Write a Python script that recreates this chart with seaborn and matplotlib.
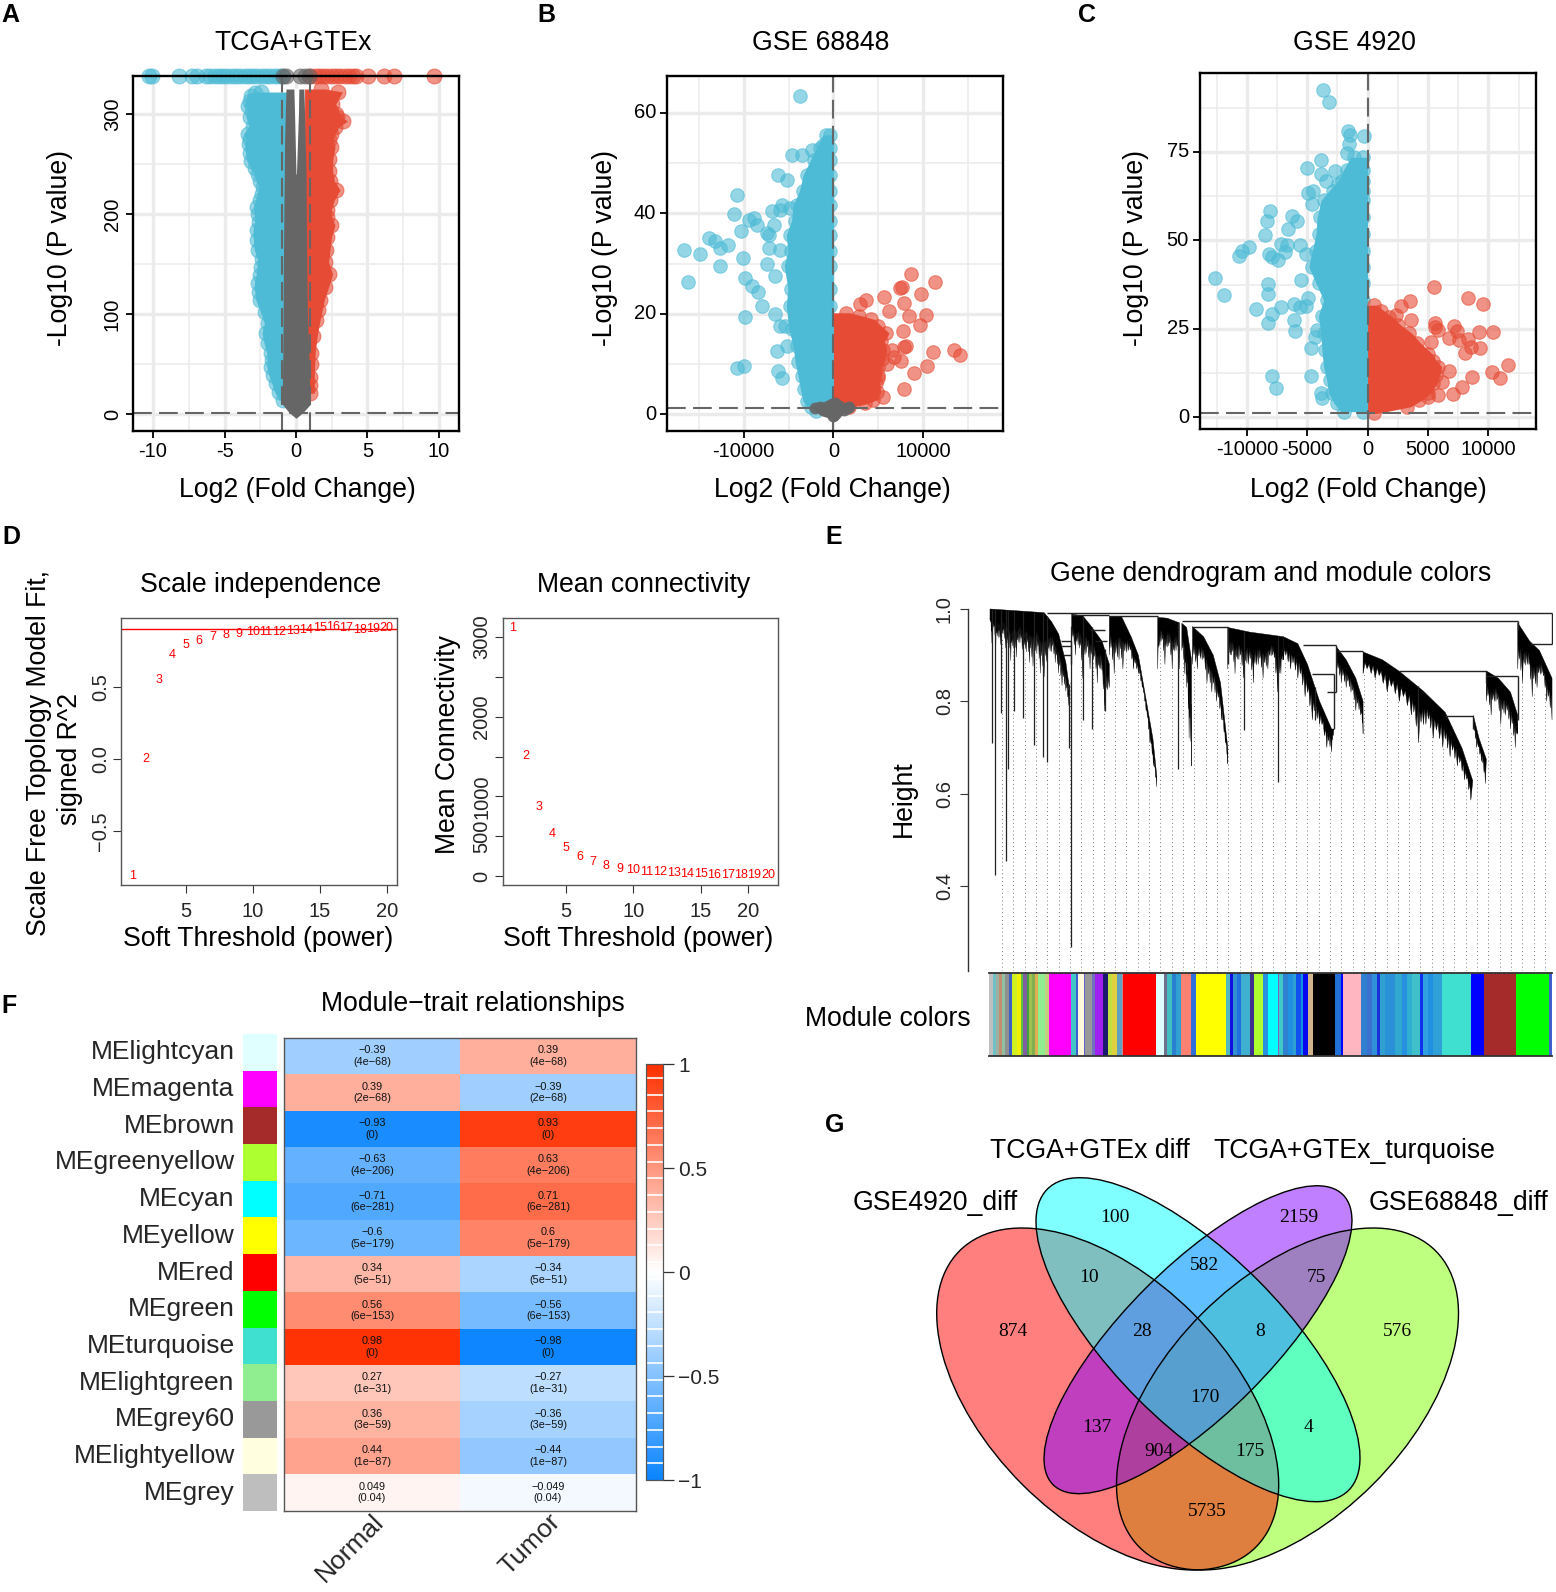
import numpy as np
import pandas as pd
import matplotlib
matplotlib.use('Agg')
import matplotlib.pyplot as plt
from matplotlib.colors import LinearSegmentedColormap, ListedColormap
from matplotlib.patches import Ellipse
import seaborn as sns

W, H = 1556, 1592
BLUE, RED, GREY = '#4DBBD5', '#E64B35', '#666666'

# ---- A: TCGA+GTEx volcano
a_blue_y = [14, 22, 31, 39, 47.5, 54, 61, 71, 81, 91, 102, 114, 122, 131, 139, 147, 155, 164, 174, 184, 192, 200, 207,
            214, 220, 227, 233, 240, 246, 253, 261, 270, 275, 280, 288, 297, 303, 308, 313, 318, 321, 322]
a_blue_x = [-0.89, -1.2, -1.41, -1.6, -1.76, -1.7, -1.76, -1.95, -2.1, -1.93, -2.2, -2.52, -2.6, -2.63, -2.5, -2.45,
            -2.4, -2.63, -2.7, -2.73, -2.6, -2.63, -2.7, -2.52, -2.4, -2.28, -2.5, -2.63, -2.9, -3.15, -3.25, -3.32,
            -3.2, -3.39, -3.0, -3.22, -3.1, -3.39, -3.2, -3.15, -2.9, -2.45]
a_red_y = [21, 29, 37.5, 50, 61, 78, 94, 104, 114, 127, 140, 152, 164, 177, 189, 197, 204, 214, 224, 233, 243, 255, 267,
           274, 280, 287, 293, 297, 300, 310, 322, 325]
a_red_x = [1.0, 1.0, 1.0, 1.03, 1.06, 1.2, 1.4, 1.55, 1.69, 2.0, 2.28, 2.0, 2.1, 2.2, 2.45, 2.2, 2.17, 2.4, 2.8, 2.4,
           2.28, 2.3, 2.45, 2.3, 2.45, 2.7, 3.32, 2.9, 2.8, 2.5, 2.97, 1.76]
a_top_blue = [-10.3, -10.1, -8.2, -7.3, -6.9, -6.3, -6.0, -5.7, -5.4, -5.1, -4.8, -4.5, -4.2, -3.9, -3.6, -3.3, -3.0,
              -2.7, -2.4, -2.1, -1.8, -1.5, -1.2, -1.0]
a_top_red = [1.0, 1.3, 1.6, 1.9, 2.2, 2.5, 2.8, 3.1, 3.4, 3.7, 4.0, 4.2, 5.03, 6.15, 6.88, 9.65]
a_top_grey = [-0.9, -0.7, 0.3, 0.6, 0.9]
a_grey_y = [-4, 2, 10, 30, 60, 100, 150, 200, 240, 270, 300, 325]
a_grey_left = [0, -0.5, -0.95, -0.95, -0.92, -0.9, -0.88, -0.85, -0.82, -0.8, -0.75, -0.7]
a_grey_right = [0, 0.5, 1.0, 0.95, 0.9, 0.8, 0.75, 0.72, 0.7, 0.65, 0.6, 0.55]
a_gap_y = [240, 270, 300, 326]
a_gap_left = [0, -0.05, -0.1, -0.15]
a_gap_right = [0.03, 0.1, 0.17, 0.2]

# ---- B: GSE 68848 volcano
b_blue_y = [0.6, 1.5, 2.6, 5, 7.6, 10.5, 13.6, 17, 21.6, 25, 29.6, 32.5, 35.6, 38.5, 41.6, 44.5, 47.6, 50.5, 53, 55.6]
b_blue_x = [-1890, -2500, -3000, -3300, -3550, -3900, -4100, -4600, -4880, -4700, -5100, -4700, -4880, -4300, -4100,
            -3400, -3000, -2200, -1500, -800]
b_blue_pts_x = [-3780, -16650, -14870, -16200, -13870, -13200, -12650, -11770, -12650, -10100, -10770, -11100, -10300,
                -9440, -8880, -8550, -9900, -9100, -8440, -9900, -8000, -10770, -10000, -7200, -7200, -7440, -6550,
                -6000, -5770, -4880, -6200, -5200, -4660, -3550, -2440, -1110, -6000, -6880, -6660, -6550, -6000,
                -6330, -6200, -5770, -5440, -5220, -7440]
b_blue_pts_y = [63.4, 32.6, 32, 26.4, 35, 34.4, 33, 33.6, 29.6, 31.2, 43.6, 39.8, 36.4, 38.6, 39, 37.6, 27.2, 25.6,
                24.4, 19.4, 21.6, 9.2, 9.6, 33, 35.6, 30, 27.6, 32.6, 41.6, 41, 47.6, 46.6, 51.6, 51.6, 52.6, 53.6,
                40.6, 40.4, 37.6, 20, 17.6, 12.6, 8.6, 7.2, 17.6, 13.6, 36]
b_red_y = [1.4, 2.2, 2.9, 4.5, 6.2, 7.8, 9.5, 11, 12.9, 14.5, 16.2, 17.5, 18.9, 19.6, 20.2]
b_red_x = [1700, 3500, 4450, 4900, 4730, 5000, 5000, 5400, 5550, 5300, 5820, 5000, 4180, 2800, 1430]
b_red_pts_x = [8680, 11370, 7470, 7650, 9780, 5660, 3680, 2910, 7910, 6210, 10270, 8400, 9620, 7750, 8130, 7910, 6540,
               11150, 13400, 14070, 6760, 7580, 5990, 10380, 9010, 7910, 5550, 5000]
b_red_pts_y = [27.9, 26.4, 25.2, 25.4, 24, 23.4, 22.7, 22, 22.2, 20.5, 19.7, 19.5, 17.7, 16.5, 13.7, 13.5, 12.9,
               12.5, 12.9, 11.9, 11.4, 10.7, 10.1, 9.7, 8.2, 5, 3.5, 7.2]
b_grey_x = [0, -500, 500, -1000, 1000, -1500, 1700, -300, 300, -2000, 0, 100, -1200, -800, -600, -200, 200, 600, 1200,
            1500, -100, 100, -300, 400]
b_grey_y = [0.1, 1, 1, 1.2, 1.3, 1.5, 1.5, 0.3, 0.3, 1.2, 1.8, 0.8, 0.8, 0.6, 1.7, 2.0, 2.2, 1.6, 0.9, 1.2, -0.3, -0.2,
            1.3, 0.6]

# ---- C: GSE 4920 volcano
c_blue_y = [1.6, 4, 6.8, 10.5, 14.3, 19, 23.7, 28.5, 33.1, 38, 42.5, 47, 51.9, 56.5, 61.3, 64, 66.9, 70, 73.5]
c_blue_x = [-1930, -2500, -2950, -3100, -3360, -3500, -3570, -3800, -3360, -4000, -4590, -4300, -3980, -3900, -3570,
            -2900, -2130, -1700, -1110]
c_blue_pts_x = [-3690, -3160, -1600, -290, -1430, -1520, -1720, -3890, -5040, -2660, -3890, -3480, -2420, -8070, -8320,
                -6230, -6600, -5820, -8480, -4960, -4550, -4590, -9800, -10410, -10610, -7170, -6640, -8160, -7950,
                -7420, -6840, -5610, -5120, -12660, -11890, -8280, -8280, -5530, -7170, -6110, -5610, -5120, -4960,
                -9220, -7870, -8280, -6110, -5980, -4180, -4390, -4670, -4710, -7870, -7580, -3890, -3770]
c_blue_pts_y = [92.5, 89, 81, 79.6, 79.9, 77.3, 74.6, 72.7, 70.5, 69.7, 68.8, 66.9, 65.8, 58.3, 55.5, 56.8, 53.3, 55.5,
                51.4, 63.3, 64, 60.3, 48.1, 47, 45.5, 49.1, 48.6, 46.1, 45.3, 44.4, 46.7, 48.6, 46.2, 39.5, 34.5, 37.6,
                34.8, 38.9, 31.2, 32.1, 31.2, 31.4, 33.6, 30.7, 29.3, 26.7, 27.6, 24.3, 24.6, 22.7, 19.5, 11.7, 11.7,
                8.4, 7, 5.6]
c_red_y = [1.1, 3, 4.9, 7, 9.6, 12, 14.3, 16, 18, 21, 23.7, 26, 28.4, 30, 31.7]
c_red_x = [530, 3300, 4220, 5000, 5450, 5700, 5860, 5400, 5040, 4100, 3400, 2500, 1760, 1100, 530]
c_red_pts_x = [5530, 8320, 9590, 3520, 2790, 2380, 3610, 5570, 5570, 5860, 7170, 7380, 9220, 10410, 6760, 7580, 8320,
               5250, 8520, 9340, 8030, 11600, 10290, 10980, 8610, 7830, 7090, 6760, 6190, 5860, 5040]
c_red_pts_y = [36.7, 33.6, 32, 32.8, 31.4, 28.9, 27.4, 26.7, 25.4, 24.8, 25.8, 24.4, 24.2, 24.2, 22.3, 21.8, 22, 21.3,
               19.9, 19.5, 18.2, 14.7, 12.9, 11.2, 11.5, 8.6, 6.6, 13.2, 10, 6.3, 5.8]

# ---- D: soft threshold
powers = list(range(1, 21))
scale_fit = [-0.81, 0.0, 0.55, 0.72, 0.79, 0.82, 0.845, 0.86, 0.866, 0.88, 0.88, 0.884, 0.887, 0.896, 0.91, 0.917,
             0.909, 0.896, 0.90, 0.907]
mean_conn = [3114, 1513, 863, 532, 348, 243, 176, 126, 92, 71, 54, 46, 33, 25, 21, 17, 13, 12, 9, 7]

# ---- E: dendrogram, x is gene order along the bar; (top_x, top_h, low_x, low_h)
dendro_tails = [
    ([393, 450, 505, 520, 535, 550, 556], [1.0, .996, .992, .973, .946, .884, .838],
     [393, 397, 400, 405, 410, 415, 420, 425, 430, 436, 442, 448, 455, 462, 468, 475, 482, 490, 497, 505, 512, 520,
      528, 535, 542, 550, 556],
     [.977, .926, .961, .919, .938, .923, .946, .915, .926, .888, .915, .896, .926, .884, .907, .884, .876, .903, .861,
      .853, .876, .907, .884, .861, .834, .822, .791]),
    ([562, 585, 600, 625, 640], [.989, .985, .966, .93, .88],
     [562, 570, 578, 585, 592, 600, 607, 615, 622, 630, 640], [.93, .90, .915, .85, .905, .87, .89, .84, .87, .78, .83]),
    ([640, 665, 685, 700, 715, 730, 738], [.984, .984, .94, .90, .81, .72, .64],
     [640, 650, 660, 668, 680, 690, 700, 708, 716, 724, 731, 738],
     [.90, .86, .89, .87, .91, .87, .86, .83, .78, .71, .66, .615]),
    ([740, 760, 785], [.982, .98, .97], [740, 747, 755, 762, 770, 778, 785], [.87, .93, .88, .92, .87, .91, .87]),
    ([790, 800, 810], [.969, .96, .89], [790, 796, 800, 805, 810], [.91, .86, .83, .72, .66]),
    ([812, 835, 855, 870, 885], [.962, .94, .90, .84, .70],
     [812, 822, 832, 842, 852, 862, 872, 880, 885], [.88, .87, .89, .84, .82, .80, .76, .71, .665]),
    ([885, 930, 965, 1000], [.96, .95, .945, .94],
     [885, 893, 900, 908, 918, 928, 938, 948, 958, 968, 978, 988, 995, 1000],
     [.87, .90, .86, .89, .85, .88, .84, .88, .85, .87, .90, .82, .86, .89]),
    ([1000, 1030, 1050, 1075, 1100], [.94, .925, .88, .80, .74],
     [1000, 1015, 1030, 1045, 1060, 1075, 1090, 1100, 1105], [.89, .87, .85, .81, .76, .75, .70, .69, .74]),
    ([1110, 1130, 1150, 1165], [.918, .89, .85, .80],
     [1110, 1120, 1130, 1140, 1150, 1160, 1165], [.86, .84, .83, .82, .78, .77, .73]),
    ([1165, 1205, 1240, 1290, 1335, 1370, 1392], [.907, .89, .865, .822, .776, .698, .628],
     [1165, 1190, 1215, 1240, 1265, 1280, 1295, 1310, 1330, 1345, 1360, 1375, 1388],
     [.86, .85, .82, .80, .77, .71, .75, .72, .70, .68, .66, .63, .586]),
    ([1393, 1405, 1420], [.77, .72, .675], [1393, 1400, 1410, 1418], [.74, .70, .67, .622]),
    ([1420, 1445, 1470, 1485], [.866, .85, .82, .77],
     [1420, 1430, 1440, 1450, 1460, 1470, 1480, 1485], [.80, .77, .80, .75, .77, .74, .70, .73]),
    ([1485, 1510, 1530, 1556], [.97, .93, .91, .85],
     [1485, 1495, 1505, 1515, 1525, 1535, 1545, 1556], [.87, .84, .88, .81, .83, .86, .80, .76]),
]
spike_x = [397, 403, 416, 426, 430, 442, 462, 485, 502, 511, 556, 561, 585, 604, 630, 783, 918, 988, 1065, 1278]
spike_low = [.71, .423, .775, .454, .654, .78, .765, .706, .68, .668, .70, .269, .76, .74, .78, .653, .737, .625, .76, .73]
merge_x0 = [510, 790, 562, 640, 812, 1040, 1110, 1240, 1335, 1420, 1510, 540, 540, 545, 1060, 1090, 600, 610]
merge_x1 = [1556, 1485, 640, 740, 885, 1110, 1165, 1420, 1393, 1485, 1556, 560, 560, 560, 1105, 1110, 630, 635]
merge_h = [.991, .973, .988, .984, .962, .923, .91, .866, .768, .855, .925, .93, .92, .90, .86, .82, .955, .93]
drop_x = [1556, 1485, 885, 1110, 1420, 1485, 1393, 560, 1105]
drop_hi = [.991, .973, .962, .923, .866, .855, .768, .93, .86]
drop_lo = [.925, .955, .88, .82, .84, .76, .74, .88, .74]

module_colors = ['#c0c0c0', '#70c0c8', '#a0b0a0', '#c09070', '#90c0a0', '#909090', '#3a60c8', '#d0f020', '#f0f000',
                 '#60c040', '#8060a0', '#40a040', '#a0c050', '#80b050', '#e0b050', '#90ee90', '#c0d080', '#ff00ff',
                 '#40c8c8', '#4060d0', '#fff8dc', '#6060d0', '#999999', '#7070c0', '#a020f0', '#191970', '#c0e040',
                 '#e0d040', '#60a0c0', '#c09090', '#ff0000', '#e0ffff', '#707090', '#40c0c0', '#2a80d0', '#30a0d0',
                 '#fa8072', '#3070d8', '#ffff00', '#50b8c0', '#1010e0', '#3090d0', '#2070e0', '#40b0d0', '#403090',
                 '#adff2f', '#2a90e0', '#00ffff', '#8060c0', '#40c8c8', '#3080d0', '#2090e0', '#30a0d0', '#1050f0',
                 '#1090e0', '#0808f0', '#d2b48c', '#000000', '#2070d8', '#0000ff', '#ffb6c1', '#3080d0', '#3a70d0',
                 '#3090d8', '#1a30d8', '#30a0d0', '#2a90d8', '#30a8d0', '#2890e0', '#30b0d0', '#40c0c8', '#1030f0',
                 '#30a0e0', '#2090e0', '#30a0d8', '#40e0d0', '#0000ff', '#a52a2a', '#00ff00', '#4060d0']
module_widths = [13, 8, 10, 9, 8, 12, 8, 15, 13, 5, 14, 5, 10, 8, 10, 20, 11, 66, 15, 8, 16, 4, 20, 11, 23, 15, 13, 13,
                 15, 3, 99, 25, 10, 13, 12, 15, 31, 15, 89, 13, 10, 10, 13, 27, 11, 28, 16, 28, 4, 13, 15, 15, 8, 14, 8,
                 13, 17, 65, 17, 8, 53, 17, 15, 15, 10, 15, 30, 20, 15, 15, 25, 8, 17, 15, 25, 88, 39, 95, 101, 8]

# ---- F: module-trait heatmap
module_names = ['MElightcyan', 'MEmagenta', 'MEbrown', 'MEgreenyellow', 'MEcyan', 'MEyellow', 'MEred', 'MEgreen',
                'MEturquoise', 'MElightgreen', 'MEgrey60', 'MElightyellow', 'MEgrey']
strip_colors = ['#e0ffff', '#ff00ff', '#a52a2a', '#adff2f', '#00ffff', '#ffff00', '#ff0000', '#00ff00', '#40e0d0',
                '#90ee90', '#999999', '#ffffe0', '#bebebe']
normal_r = [-0.39, 0.39, -0.93, -0.63, -0.71, -0.6, 0.34, 0.56, 0.98, 0.27, 0.36, 0.44, 0.049]
tumor_r = [0.39, -0.39, 0.93, 0.63, 0.71, 0.6, -0.34, -0.56, -0.98, -0.27, -0.36, -0.44, -0.049]
p_text = ['4e\u221268', '2e\u221268', '0', '4e\u2212206', '6e\u2212281', '5e\u2212179', '5e\u221251', '6e\u2212153', '0',
          '1e\u221231', '3e\u221259', '1e\u221287', '0.04']

# ---- G: venn counts
venn_counts = [874, 100, 10, 582, 2159, 75, 576, 28, 8, 170, 137, 4, 904, 175, 5735]
venn_x = [440, 652, 598, 838, 1033, 1070, 1236, 708, 952, 838, 614, 1052, 744, 932, 842]
venn_y = [692, 350, 531, 494, 350, 531, 692, 692, 692, 890, 980, 980, 1052, 1052, 1232]

sns.set_theme(style='white')
plt.rcParams['font.family'] = ['Liberation Sans', 'DejaVu Sans']
fig = plt.figure(figsize=(W / 100, H / 100), dpi=100)


def px_axes(left, top, right, bottom):
    return fig.add_axes([left / W, 1 - bottom / H, (right - left) / W, (bottom - top) / H])


def dots(ax, x, y, color, size, alpha=0.6):
    sns.scatterplot(x=x, y=y, color=color, alpha=alpha, s=size, edgecolor=color, linewidth=0.8,
                    clip_on=False, legend=False, ax=ax)


def cloud(ax, y, edge, limit, color, size, bleed):
    # solid core, the edge circles only show as the fringe
    grown = np.array(edge) - np.sign(np.array(edge)) * -bleed
    ax.fill_betweenx(y, grown, limit, color=color, linewidth=0)
    dots(ax, edge, y, color, size)


def volcano(ax, xlim, ylim, xmaj, xmin, ymaj, ymin, xlab, ylab, yrot):
    ax.set_xlim(xlim)
    ax.set_ylim(ylim)
    ax.set_xticks(xmaj)
    ax.set_xticklabels(xlab, fontsize=14.5)
    ax.set_yticks(ymaj)
    ax.set_yticklabels(ylab, fontsize=14.5, rotation=yrot, va='center')
    ax.set_xticks(xmin, minor=True)
    ax.set_yticks(ymin, minor=True)
    ax.set_axisbelow(True)
    ax.grid(which='major', color='#ebebeb', lw=2.4)
    ax.grid(which='minor', color='#ebebeb', lw=1.1)
    ax.tick_params(which='major', length=5, width=1.3, color='black', labelcolor='black', pad=3,
                   bottom=True, left=True)
    ax.tick_params(which='minor', length=0)
    for s in ax.spines.values():
        s.set_visible(True)
        s.set_color('black')
        s.set_linewidth(1.7)
        s.set_zorder(5)


def guides(ax, xs, ys):
    for xv in xs:
        ax.axvline(xv, color='#666666', lw=1.5, ls=(0, (9, 3.5)), zorder=3)
    for yv in ys:
        ax.axhline(yv, color='#666666', lw=1.5, ls=(0, (9, 3.5)), zorder=3)


# panel A
ax = px_axes(133, 76, 459, 431)
volcano(ax, (-11.4, 11.4), (-16.7, 338), [-10, -5, 0, 5, 10], [-7.5, -2.5, 2.5, 7.5], [0, 100, 200, 300], [50, 150, 250],
        ['-10', '-5', '0', '5', '10'], ['0', '100', '200', '300'], 90)
cloud(ax, a_blue_y, a_blue_x, -0.6, BLUE, 115, 0.28)
cloud(ax, a_red_y, a_red_x, 0.6, RED, 115, 0.28)
dots(ax, a_top_blue, [338] * len(a_top_blue), BLUE, 115)
dots(ax, a_top_red, [338] * len(a_top_red), RED, 115)
dots(ax, a_top_grey, [338] * len(a_top_grey), GREY, 115)
ax.fill_betweenx(a_grey_y, a_grey_left, a_grey_right, color=GREY, linewidth=0, zorder=2)
ax.fill_betweenx(a_gap_y, a_gap_left, a_gap_right, color='white', linewidth=0, zorder=2)
guides(ax, [-1, 1], [1.3])

# panel B
ax = px_axes(667, 76, 1003, 431)
volcano(ax, (-18550, 18900), (-3.3, 67.3), [-10000, 0, 10000], [-15000, -5000, 5000, 15000], [0, 20, 40, 60], [10, 30, 50],
        ['-10000', '0', '10000'], ['0', '20', '40', '60'], 0)
cloud(ax, b_blue_y, b_blue_x, 0, BLUE, 95, 380)
dots(ax, [-400] * len(b_blue_y), b_blue_y, BLUE, 95)
dots(ax, b_blue_pts_x, b_blue_pts_y, BLUE, 95)
cloud(ax, b_red_y, b_red_x, 0, RED, 95, 380)
dots(ax, b_red_pts_x, b_red_pts_y, RED, 95)
dots(ax, b_grey_x, b_grey_y, GREY, 60, alpha=0.9)
guides(ax, [0], [1.3])

# panel C
ax = px_axes(1200, 73, 1536, 429)
volcano(ax, (-13870, 13940), (-3.3, 97.3), [-10000, -5000, 0, 5000, 10000], [-12500, -7500, -2500, 2500, 7500, 12500],
        [0, 25, 50, 75], [12.5, 37.5, 62.5, 87.5], ['-10000', '-5000', '0', '5000', '10000'], ['0', '25', '50', '75'], 0)
cloud(ax, c_blue_y, c_blue_x, 0, BLUE, 95, 280)
dots(ax, [-350] * len(c_blue_y), c_blue_y, BLUE, 95)
dots(ax, c_blue_pts_x, c_blue_pts_y, BLUE, 95)
cloud(ax, c_red_y, c_red_x, 0, RED, 95, 280)
dots(ax, c_red_pts_x, c_red_pts_y, RED, 95)
guides(ax, [0], [1.3])


def r_box(ax):
    for s in ax.spines.values():
        s.set_visible(True)
        s.set_color('#555555')
        s.set_linewidth(1.0)
    ax.tick_params(length=6, width=0.8, color='#333333', labelsize=14.5, pad=6, bottom=True, left=True)
    ax.tick_params(axis='y', pad=2)


# panel D
ax = px_axes(121, 618, 397, 885)
ax.set_xlim(0.17, 20.77)
ax.set_ylim(-0.875, 0.979)
r_box(ax)
ax.set_xticks([5, 10, 15, 20])
ax.set_yticks([-0.5, 0, 0.5])
ax.set_yticklabels(['\u22120.5', '0.0', '0.5'], rotation=90, va='center')
ax.axhline(0.90, color='red', lw=1.0)
for p, v in zip(powers, scale_fit):
    ax.text(p, v, str(p), color='red', fontsize=9, ha='center', va='center')

ax = px_axes(502.5, 618, 778, 885)
ax.set_xlim(0.29, 20.74)
ax.set_ylim(-113, 3241)
r_box(ax)
ax.set_xticks([5, 10, 15, 18.55])
ax.set_xticklabels(['5', '10', '15', '20'])
ax.set_yticks([0, 500, 1000, 1500, 2000, 2500, 3000])
ax.set_yticklabels(['0', '500', '1000', '', '2000', '', '3000'], rotation=90, va='center')
for p, v in zip(powers, mean_conn):
    ax.text(p, v, str(p), color='red', fontsize=9, ha='center', va='center')


def comb_outline(top_x, top_h, low_x, low_h):
    # lower edge of a branch: teeth reach the read heights, thin hairs between them
    px, py = list(top_x), list(top_h)
    rx, ry = [], []
    for i in range(len(low_x) - 1):
        x0, x1 = low_x[i], low_x[i + 1]
        for k, depth in enumerate([1.0, 0.45, 0.7, 0.45, 0.85, 0.45]):
            xk = x0 + (x1 - x0) * k / 6
            t = np.interp(xk, top_x, top_h)
            lowv = np.interp(xk, [x0, x1], [low_h[i], low_h[i + 1]])
            rx.append(xk)
            ry.append(t - depth * (t - lowv) if t > lowv else lowv)
    rx.append(low_x[-1])
    ry.append(low_h[-1])
    return px + rx[::-1], py + ry[::-1]


# panel E
ax = px_axes(990, 609, 1553, 971)
ax.set_xlim(393, 1558)
ax.set_ylim(0.216, 1.0)
ax.patch.set_alpha(0)
all_low = sorted((x, h) for tail in dendro_tails for x, h in zip(tail[2], tail[3]))
all_top = sorted((x, h) for tail in dendro_tails for x, h in zip(tail[0], tail[1]))
guide_x = np.arange(418, 1558, 23.4)
guide_top = np.interp(guide_x, [a[0] for a in all_low], [a[1] for a in all_low])
ax.vlines(guide_x, 0.216, guide_top, color='#777777', lw=0.7, ls=(0, (1, 3)))
for top_x, top_h, low_x, low_h in dendro_tails:
    ox, oy = comb_outline(top_x, top_h, low_x, low_h)
    ax.fill(ox, oy, color='black', lw=0.3, clip_on=False)
spike_top = np.interp(spike_x, [a[0] for a in all_top], [a[1] for a in all_top])
ax.vlines(spike_x, spike_low, spike_top, color='#222222', lw=0.9)
ax.hlines(merge_h, merge_x0, merge_x1, color='#222222', lw=1.0, clip_on=False)
ax.vlines(drop_x, drop_lo, drop_hi, color='#222222', lw=1.0)
for s in ['top', 'right', 'bottom']:
    ax.spines[s].set_visible(False)
ax.spines['left'].set_visible(True)
ax.spines['left'].set_color('#333333')
ax.spines['left'].set_linewidth(1.0)
ax.spines['left'].set_position(('outward', 16))
ax.set_xticks([])
ax.set_yticks([0.4, 0.6, 0.8, 1.0])
ax.set_yticklabels(['0.4', '0.6', '0.8', '1.0'], rotation=90, va='center')
ax.tick_params(axis='y', length=6, width=0.8, color='#333333', labelsize=14.5, pad=4, left=True)

ax = px_axes(989, 973, 1552, 1056)
lefts = np.cumsum([0] + module_widths[:-1])
ax.bar(lefts, [1] * len(module_widths), width=module_widths, color=module_colors, align='edge', linewidth=0)
ax.set_xlim(0, sum(module_widths))
ax.set_ylim(0, 1)
ax.set_xticks([])
ax.set_yticks([])
for s in ['top', 'bottom']:
    ax.spines[s].set_visible(True)
    ax.spines[s].set_color('#333333')
    ax.spines[s].set_linewidth(1.3)
ax.spines['left'].set_visible(False)
ax.spines['right'].set_visible(False)

# panel F
heat_cmap = LinearSegmentedColormap.from_list('bwr_trait', ['#0a84ff', '#ffffff', '#ff3000'])
heat_df = pd.DataFrame({'Normal': normal_r, 'Tumor': tumor_r}, index=module_names)
annot_df = pd.DataFrame({'Normal': [f'{str(v).replace("-", chr(0x2212))}\n({p})' for v, p in zip(normal_r, p_text)],
                         'Tumor': [f'{str(v).replace("-", chr(0x2212))}\n({p})' for v, p in zip(tumor_r, p_text)]},
                        index=module_names)
ax = px_axes(284, 1038, 636, 1510.5)
cax = px_axes(646, 1064, 663, 1480)
sns.heatmap(heat_df, annot=annot_df, fmt='', cmap=heat_cmap, vmin=-1, vmax=1, ax=ax, cbar_ax=cax,
            annot_kws={'fontsize': 7.8, 'color': '#111111'})
ax.set_yticks([])
ax.set_ylabel('')
ax.set_xticks([0.5, 1.5])
ax.set_xticklabels(['Normal', 'Tumor'], rotation=45, ha='right', va='top', rotation_mode='anchor', fontsize=19)
ax.tick_params(axis='x', length=0, pad=-1)
for s in ax.spines.values():
    s.set_visible(True)
    s.set_color('#555555')
    s.set_linewidth(1.0)
cax.set_yticks([-1, -0.5, 0, 0.5, 1])
cax.set_yticklabels(['\u22121', '\u22120.5', '0', '0.5', '1'])
cax.tick_params(axis='y', length=8, width=0.9, color='#333333', labelsize=15, pad=3, right=True)
cax.hlines(np.arange(-0.92, 1, 0.0806), 0, 1, color='white', lw=1.2, transform=cax.get_yaxis_transform())
for s in cax.spines.values():
    s.set_visible(True)
    s.set_color('#555555')
    s.set_linewidth(0.8)

ax = px_axes(243, 1034, 277, 1511)
sns.heatmap(pd.DataFrame({'m': range(13)}, index=module_names), cmap=ListedColormap(strip_colors), cbar=False, ax=ax,
            xticklabels=False, yticklabels=True)
ax.set_ylabel('')
ax.tick_params(axis='y', length=0, pad=6, labelsize=19, labelrotation=0)

# overlay for titles, labels and the venn, in figure pixels
ov = fig.add_axes([0, 0, 1, 1])
ov.set_xlim(0, W)
ov.set_ylim(H, 0)
ov.axis('off')
ov.patch.set_alpha(0)


def label(x, y, s, rot=0, size=19.2, **kw):
    ov.text(x, y, s, fontsize=size, rotation=rot, ha='center', va='center', color='black', **kw)


for x, y, s in [(10, 15, 'A'), (546, 15, 'B'), (1087, 15, 'C'), (11, 537, 'D'), (834, 537, 'E'), (9, 1006, 'F'), (835, 1125, 'G')]:
    label(x, y, s, size=18, fontweight='bold')
for x, s in [(293, 'TCGA+GTEx'), (820.5, 'GSE 68848'), (1354, 'GSE 4920')]:
    label(x, 43, s)
for x in [297.5, 832, 1368]:
    label(x, 490, 'Log2 (Fold Change)')
for x in [60.5, 605, 1136]:
    label(x, 248, '-Log10 (P value)', rot=90)
label(39, 753, 'Scale Free Topology Model Fit,', rot=90)
label(70, 759, 'signed R^2', rot=90)
label(448, 745, 'Mean Connectivity', rot=90)
label(261, 585, 'Scale independence')
label(644, 585, 'Mean connectivity')
label(258, 939, 'Soft Threshold (power)')
label(638, 939, 'Soft Threshold (power)')
label(1271, 574, 'Gene dendrogram and module colors')
label(904, 799, 'Height', rot=90)
label(888, 1019, 'Module colors')
label(473, 1004, 'Module\u2212trait relationships')
label(1090, 1151, 'TCGA+GTEx diff')
label(1354.6, 1151, 'TCGA+GTEx_turquoise')
label(935, 1203, 'GSE4920_diff')
label(1459, 1203, 'GSE68848_diff')

# green, red, purple, cyan is the stacking that gives the overlap colours
venn_shapes = [((1287.5, 1399), 209.5, 120.8, -45, '#7fff00'),
               ((1107.7, 1399), 209.5, 120.8, 45, '#ff0000'),
               ((1198, 1339.7), 205, 73.4, -45, '#8000ff'),
               ((1198, 1339.7), 213, 84.4, 45, '#00ffff')]
for (c, a, b, ang, col) in venn_shapes:
    ov.add_patch(Ellipse(c, 2 * a, 2 * b, angle=ang, facecolor=col, alpha=0.5, edgecolor='none'))
for (c, a, b, ang, col) in venn_shapes:
    ov.add_patch(Ellipse(c, 2 * a, 2 * b, angle=ang, facecolor='none', edgecolor='black', lw=1.0))
for n, zx, zy in zip(venn_counts, venn_x, venn_y):
    ov.text(800 + zx / 2.07, 1101 + zy / 3, str(n), fontsize=14, family='Liberation Serif', ha='center', va='center',
            color='black')

fig.savefig('out.png', dpi=100)
